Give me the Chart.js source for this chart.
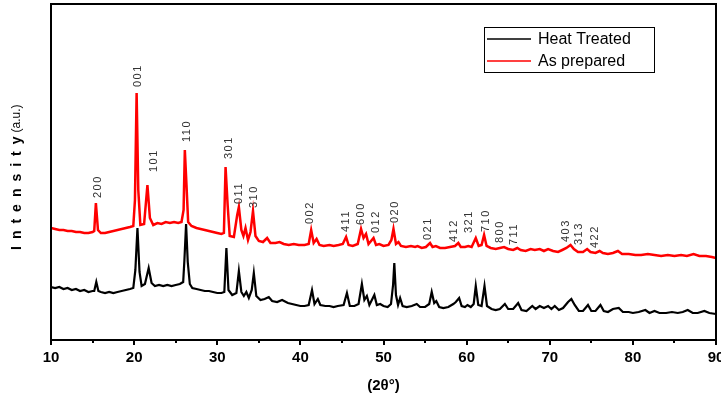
<!DOCTYPE html>
<html>
<head>
<meta charset="utf-8">
<script src="https://cdn.jsdelivr.net/npm/chart.js@4"></script>
<style>
  html, body { margin: 0; padding: 0; background: #fff; }
</style>
</head>
<body>
<canvas id="xrdChart" width="721" height="396"></canvas>
<script>
// series data (2theta in degrees, intensity in arbitrary units)
var heatTwoTheta = [10.0,10.5,11.0,11.5,12.0,12.5,13.0,13.5,14.0,14.5,15.0,15.2,15.45,15.7,16.0,16.5,17.0,17.5,18.0,18.5,19.0,19.5,19.9,20.15,20.4,20.65,20.9,21.3,21.75,22.1,22.5,23.0,23.5,24.0,24.5,25.0,25.5,25.9,26.05,26.25,26.45,26.7,27.0,27.5,28.0,28.5,29.0,29.5,30.0,30.5,30.85,31.1,31.35,31.8,32.3,32.6,32.9,33.2,33.5,33.8,34.15,34.4,34.7,35.2,35.7,36.2,36.6,37.2,37.8,38.5,39.0,39.5,40.0,40.5,41.0,41.4,41.7,42.1,42.4,43.0,43.5,44.0,44.5,45.2,45.6,45.95,46.5,47.0,47.4,47.7,48.0,48.3,48.9,49.2,49.6,50.0,50.5,50.9,51.15,51.3,51.5,51.75,52.0,52.3,52.8,53.4,54.0,54.4,55.0,55.5,55.8,56.1,56.35,56.7,57.2,57.8,58.4,58.7,59.1,59.4,59.8,60.1,60.5,60.85,61.1,61.4,61.8,62.15,62.45,63.0,63.5,64.0,64.6,65.0,65.6,66.2,66.6,67.2,67.9,68.3,68.8,69.3,69.8,70.2,70.6,71.1,71.6,72.2,72.6,73.0,73.5,74.0,74.6,75.0,75.5,76.1,76.5,77.0,77.6,78.3,78.8,79.5,80.0,80.7,81.5,82.0,82.6,83.2,84.0,84.7,85.4,86.0,86.6,87.2,87.8,88.6,89.2,90.0];
var heatIntensity = [69,68,69,67,68,66,67,65,66,64,65,65,74,65,64,63,64,63,64,65,66,67,68,86,128,84,70,72,88,73,70,71,70,71,70,71,72,74,96,132,94,72,68,67,66,65,65,64,63,63,64,108,66,61,63,85,64,60,64,58,66,83,60,56,57,59,55,54,56,53,52,51,50,50,51,66,52,57,51,50,50,49,50,51,63,50,50,52,72,56,60,51,61,51,52,50,49,52,71,93,61,51,58,50,49,50,52,49,49,52,64,53,55,49,48,49,52,54,58,50,49,51,49,52,70,51,50,70,50,47,46,47,52,47,47,53,46,45,50,47,50,48,50,47,50,46,48,54,57,51,45,45,51,45,45,51,45,44,47,48,44,44,43,44,46,43,45,43,43,44,43,44,46,43,43,45,43,42];

var prepTwoTheta = [10.0,10.5,11.0,11.5,12.0,12.5,13.0,13.5,14.0,14.5,15.0,15.2,15.4,15.65,16.0,16.5,17.0,17.5,18.0,18.5,19.0,19.5,19.9,20.1,20.3,20.5,20.75,21.2,21.6,21.9,22.3,22.8,23.3,23.8,24.3,24.8,25.3,25.7,25.95,26.1,26.3,26.5,26.9,27.5,28.0,28.5,29.0,29.5,30.0,30.5,30.8,31.0,31.25,31.5,32.0,32.4,32.6,32.9,33.15,33.4,33.7,34.0,34.3,34.6,35.0,35.5,36.0,36.4,37.0,37.5,38.0,38.6,39.2,39.8,40.5,41.0,41.3,41.6,41.95,42.3,42.8,43.5,44.0,44.6,45.1,45.5,45.8,46.3,46.9,47.3,47.6,47.9,48.2,48.8,49.1,49.5,50.0,50.6,50.95,51.2,51.5,51.8,52.1,52.7,53.3,53.8,54.1,54.6,55.1,55.6,55.9,56.3,56.8,57.4,58.0,58.6,59.0,59.3,59.8,60.2,60.6,61.1,61.45,61.8,62.1,62.4,62.9,63.5,64.0,64.5,65.0,65.6,66.1,66.5,67.1,67.7,68.2,68.8,69.3,69.8,70.4,71.0,71.5,72.0,72.5,72.9,73.4,74.0,74.5,74.9,75.5,76.0,76.4,77.0,77.6,78.2,78.7,79.5,80.3,81.0,81.8,82.6,83.4,84.2,85.0,85.8,86.5,87.3,88.0,88.8,89.5,90.0];
var prepIntensity = [128,127,126,126,125,125,124,124,123,123,124,125,153,126,123,123,124,125,126,127,128,129,130,156,263,166,131,132,171,138,131,133,132,134,133,134,133,134,146,206,171,134,130,128,127,126,125,124,123,122,123,189,151,120,119,141,149,126,120,128,116,124,145,120,115,114,118,113,113,114,112,111,112,111,111,112,126,113,117,111,110,111,110,111,112,119,111,110,112,127,118,122,112,118,111,112,110,111,116,127,112,114,110,109,110,109,110,108,109,113,109,110,108,108,109,110,113,109,109,110,109,118,110,111,121,110,108,107,108,109,107,106,108,106,105,107,106,107,105,107,105,104,106,108,111,107,104,104,107,104,103,105,103,102,103,105,102,102,101,101,102,101,100,101,100,101,100,102,100,100,99,98];

// reflection labels (hkl) and where they sit, in data units
var peakLabels = ['200','001','101','110','301','011','310','002','411','600','012','020','021','412','321','710','800','711','403','313','422'];
var peakLabelTwoTheta = [15.65,20.45,22.37,26.34,31.38,32.58,34.38,41.11,45.44,47.24,49.04,51.32,55.29,58.53,60.33,62.37,64.05,65.74,71.98,73.54,75.47];
var peakLabelIntensity = [158,269,184,214,197,152,148,132,124,131,123,133,116,114,123,124,113,111,114,111,108];

var xTicks = [10,20,30,40,50,60,70,80,90];

function toPoints(xs, ys) {
  return xs.map(function(x, i) { return { x: x, y: ys[i] }; });
}

// frame, tick marks, peak labels, y title and legend box
var decorations = {
  id: 'decorations',
  afterDatasetsDraw: function(chart) {
    var ctx = chart.ctx;
    var xs = chart.scales.x, ys = chart.scales.y;
    ctx.save();
    ctx.fillStyle = '#333';
    ctx.font = '11px Arial, "Liberation Sans", sans-serif';
    ctx.textAlign = 'left';
    ctx.textBaseline = 'middle';
    if ('letterSpacing' in ctx) ctx.letterSpacing = '1.5px';
    peakLabels.forEach(function(lbl, i) {
      var px = xs.getPixelForValue(peakLabelTwoTheta[i]);
      var py = ys.getPixelForValue(peakLabelIntensity[i]);
      ctx.save();
      ctx.translate(px, py);
      ctx.rotate(-Math.PI / 2);
      ctx.fillText(lbl, 0, 0);
      ctx.restore();
    });
    ctx.restore();
  },
  afterDraw: function(chart) {
    var ctx = chart.ctx;
    var a = chart.chartArea;
    var xs = chart.scales.x;
    ctx.save();
    // plot frame
    ctx.strokeStyle = '#000';
    ctx.lineWidth = 2;
    ctx.strokeRect(a.left, a.top, a.right - a.left, a.bottom - a.top);
    // ticks, major every 10, minor every 5
    for (var v = 10; v <= 90; v += 5) {
      var px = Math.round(xs.getPixelForValue(v));
      ctx.beginPath();
      ctx.moveTo(px, a.bottom);
      ctx.lineTo(px, a.bottom + (v % 10 === 0 ? 5 : 3));
      ctx.stroke();
    }
    // y axis title
    ctx.fillStyle = '#000';
    ctx.translate(17, 250);
    ctx.rotate(-Math.PI / 2);
    ctx.textAlign = 'left';
    ctx.textBaseline = 'middle';
    ctx.font = 'bold 14px Arial, "Liberation Sans", sans-serif';
    if ('letterSpacing' in ctx) ctx.letterSpacing = '7px';
    ctx.fillText('Intensity', 0, 0);
    var w = ctx.measureText('Intensity').width;
    if ('letterSpacing' in ctx) ctx.letterSpacing = '0px';
    ctx.font = '12px Arial, "Liberation Sans", sans-serif';
    ctx.fillText('(a.u.)', w - 3, 0);
    ctx.restore();

    // legend box
    ctx.save();
    ctx.strokeStyle = '#000';
    ctx.lineWidth = 1;
    ctx.strokeRect(484.5, 27.5, 170, 45);
    ctx.font = '16px Arial, "Liberation Sans", sans-serif';
    ctx.textAlign = 'left';
    ctx.textBaseline = 'middle';
    var rows = [chart.data.datasets[0], chart.data.datasets[1]];
    rows.forEach(function(ds, i) {
      var y = 39 + i * 22;
      ctx.strokeStyle = ds.borderColor;
      ctx.lineWidth = 1.5;
      ctx.beginPath();
      ctx.moveTo(487, y);
      ctx.lineTo(531, y);
      ctx.stroke();
      ctx.fillStyle = '#000';
      ctx.fillText(ds.label, 538, y + 1);
    });
    ctx.restore();
  }
};

var ctx = document.getElementById('xrdChart').getContext('2d');
new Chart(ctx, {
  type: 'line',
  data: {
    datasets: [
      {
        label: 'Heat Treated',
        data: toPoints(heatTwoTheta, heatIntensity),
        borderColor: '#000000',
        borderWidth: 2.2,
        pointRadius: 0,
        tension: 0,
        order: 1
      },
      {
        label: 'As prepared',
        data: toPoints(prepTwoTheta, prepIntensity),
        borderColor: '#ff0000',
        borderWidth: 2.5,
        pointRadius: 0,
        tension: 0,
        order: 0
      }
    ]
  },
  options: {
    responsive: false,
    animation: false,
    devicePixelRatio: 1,
    layout: { padding: { left: 51, top: 4, right: 5, bottom: 0 } },
    plugins: {
      legend: { display: false },
      tooltip: { enabled: false }
    },
    scales: {
      x: {
        type: 'linear',
        min: 10,
        max: 90,
        afterBuildTicks: function(scale) {
          scale.ticks = xTicks.map(function(v) { return { value: v }; });
        },
        afterFit: function(scale) {
          scale.height = 56;
          scale.paddingLeft = 0;
          scale.paddingRight = 0;
        },
        grid: { display: false, drawTicks: false },
        border: { display: false },
        ticks: {
          padding: 9,
          color: '#000',
          maxRotation: 0,
          autoSkip: false,
          font: { family: 'Arial, "Liberation Sans", sans-serif', size: 15, weight: 'bold' }
        },
        title: {
          display: true,
          text: '(2θ°)',
          color: '#000',
          padding: { top: 4, bottom: 1 },
          font: { family: 'Arial, "Liberation Sans", sans-serif', size: 15, weight: 'bold' }
        }
      },
      y: {
        display: false,
        min: 16,
        max: 352
      }
    }
  },
  plugins: [decorations]
});
</script>
</body>
</html>
